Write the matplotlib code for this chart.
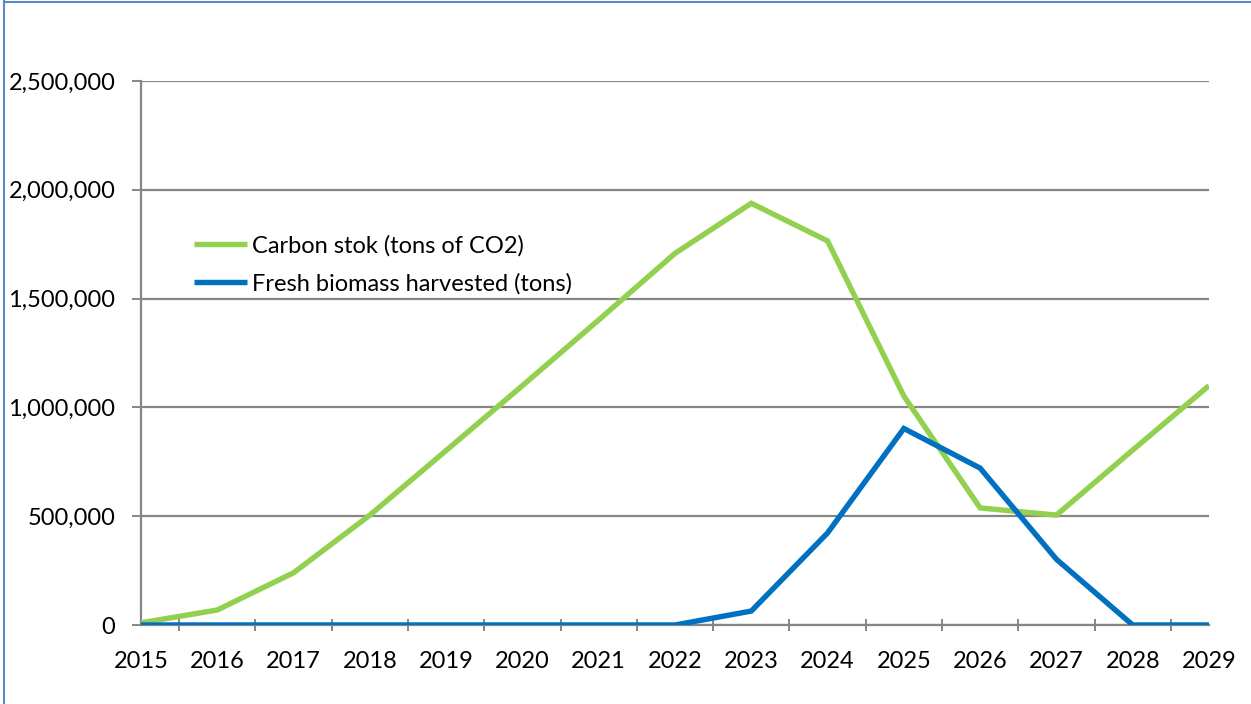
import matplotlib.pyplot as plt
from matplotlib.lines import Line2D
from matplotlib.ticker import FuncFormatter, FixedLocator

years = list(range(2015, 2030))
carbon_stock = [10000, 69000, 240000, 505000, 802000, 1100000, 1402000, 1708000,
                1938000, 1765000, 1052000, 538000, 505000, 804000, 1100000]
biomass_harvested = [0, 0, 0, 0, 0, 0, 0, 0,
                     64000, 423000, 903000, 721000, 302000, 0, 0]
labels = ['Carbon stok (tons of CO2)', 'Fresh biomass harvested (tons)']

plt.rcParams['font.family'] = ['Lato', 'DejaVu Sans']
grey = '#868686'
fs = 17

fig = plt.figure(figsize=(12.51, 7.04), dpi=100)
ax = fig.add_axes([141 / 1251, 79 / 704, 1068 / 1251, 544 / 704])

l1, = ax.plot(years, carbon_stock, color='#92D050', lw=3.9, solid_joinstyle='miter',
              solid_capstyle='butt', zorder=3)
l2, = ax.plot(years, biomass_harvested, color='#0070C0', lw=3.9, solid_joinstyle='miter',
              solid_capstyle='butt', zorder=4)

ax.set_xlim(2015, 2029)
ax.set_ylim(0, 2500000)
ax.set_yticks(range(0, 2500001, 500000))
ax.yaxis.set_major_formatter(FuncFormatter(lambda v, p: f'{int(v):,}'))
ax.grid(axis='y', color=grey, lw=1.6, zorder=1)
ax.set_axisbelow(True)

# year labels sit on the data points, tick marks fall between them
ax.set_xticks(years)
ax.tick_params(axis='x', which='major', length=0, pad=19, labelsize=fs)
ax.xaxis.set_minor_locator(FixedLocator([y + 0.5 for y in years[:-1]] + [2029]))
ax.tick_params(axis='x', which='minor', length=9, width=1.4, color=grey, direction='inout')
ax.tick_params(axis='y', length=6.5, width=1.4, color=grey, pad=12, labelsize=fs)

for s in ['top', 'right']:
    ax.spines[s].set_visible(False)
for s in ['left', 'bottom']:
    ax.spines[s].set_color(grey)
    ax.spines[s].set_linewidth(1.6)

ax.legend([l1, l2], labels, loc='upper left', bbox_to_anchor=(0.041, 0.735),
          frameon=False, fontsize=fs, handlelength=2.25, handletextpad=0.2,
          labelspacing=0.72, borderaxespad=0)

# chart area border
fig.add_artist(Line2D([3.5 / 1251, 3.5 / 1251], [0, 1], color='#5B8AC8', lw=1.5))
fig.add_artist(Line2D([3.5 / 1251, 1], [1 - 1.5 / 704, 1 - 1.5 / 704], color='#5B8AC8', lw=1.5))

fig.savefig('out.png', dpi=100)
